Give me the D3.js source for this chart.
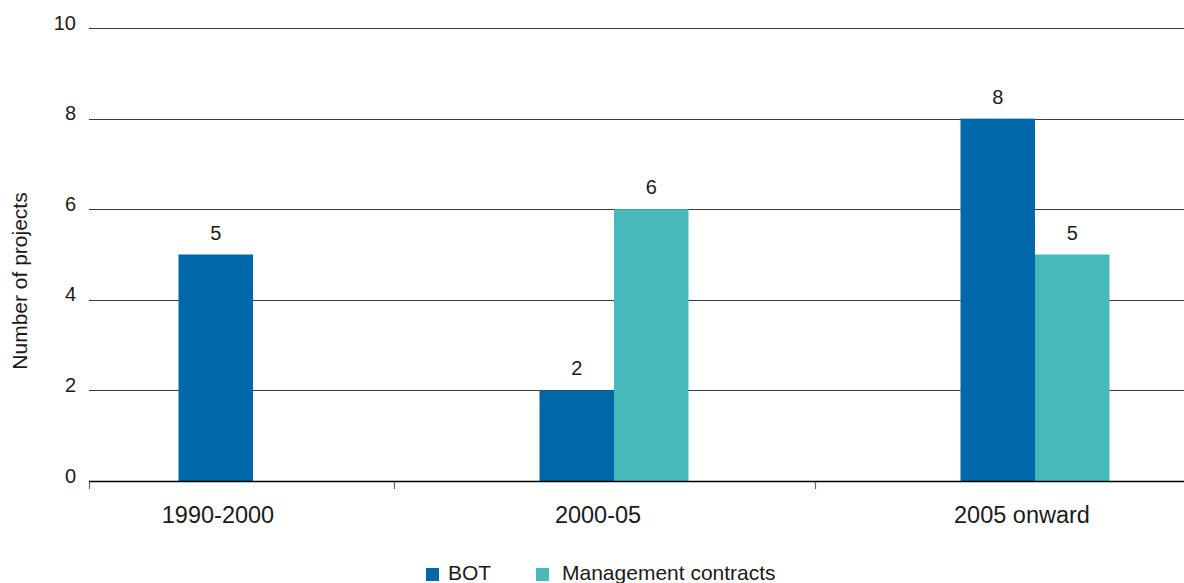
<!DOCTYPE html>
<html>
<head>
<meta charset="utf-8">
<script src="https://cdn.jsdelivr.net/npm/d3@7"></script>
<style>
  body { margin: 0; background: #fff; }
  text { font-family: "Liberation Sans", Arial, Helvetica, sans-serif; fill: #1a1a1a; }
</style>
</head>
<body>
<svg id="chart" width="1184" height="583"></svg>
<script>
// chart data
var categories = ["1990-2000", "2000-05", "2005 onward"];
var seriesNames = ["BOT", "Management contracts"];
var botValues = [5, 2, 8];
var mgmtValues = [null, 6, 5];
var yTicks = [0, 2, 4, 6, 8, 10];

var colors = { "BOT": "#0067a9", "Management contracts": "#48b9bb" };

var svg = d3.select("#chart");

// y scale
var y = d3.scaleLinear().domain([0, 10]).range([481, 28]);

// the groups are not evenly spaced in the original, so ordinal scales map them
var groupEdge = d3.scaleOrdinal().domain(categories).range([89, 394, 815]);
var pairCentre = d3.scaleOrdinal().domain(categories).range([253, 614, 1035]);
var labelCentre = d3.scaleOrdinal().domain(categories).range([218, 598, 1022]);
var inner = d3.scaleBand().domain(seriesNames).range([-74.5, 74.5]).padding(0);

var rows = categories.map(function(c, i) {
  return { cat: c, values: [
    { name: "BOT", value: botValues[i] },
    { name: "Management contracts", value: mgmtValues[i] }
  ]};
});

// gridlines + y labels
var yAxis = d3.axisLeft(y).tickValues(yTicks).tickSize(0).tickPadding(13);
var gy = svg.append("g").attr("transform", "translate(89,0)").call(yAxis);
gy.select(".domain").remove();
gy.selectAll("text").style("font-size", "20px").attr("dy", "0.05em");

svg.append("g").selectAll("line.grid")
  .data(yTicks.filter(function(t) { return t > 0; }))
  .enter().append("line")
    .attr("class", "grid")
    .attr("x1", 89).attr("x2", 1184)
    .attr("y1", function(d) { return Math.round(y(d)) + 0.5; })
    .attr("y2", function(d) { return Math.round(y(d)) + 0.5; })
    .style("stroke", "#3a3a3a").style("stroke-width", 1.2);

// bars
var groups = svg.selectAll("g.group")
  .data(rows)
  .enter().append("g")
    .attr("class", "group")
    .attr("transform", function(d) { return "translate(" + pairCentre(d.cat) + ",0)"; });

groups.selectAll("rect")
  .data(function(d) { return d.values.filter(function(v) { return v.value != null; }); })
  .enter().append("rect")
    .attr("x", function(d) { return inner(d.name); })
    .attr("width", inner.bandwidth())
    .attr("y", function(d) { return y(d.value); })
    .attr("height", function(d) { return y(0) - y(d.value); })
    .style("fill", function(d) { return colors[d.name]; });

// value labels
groups.selectAll("text.val")
  .data(function(d) { return d.values.filter(function(v) { return v.value != null; }); })
  .enter().append("text")
    .attr("class", "val")
    .attr("x", function(d) { return inner(d.name) + inner.bandwidth() / 2; })
    .attr("y", function(d) { return y(d.value) - 15; })
    .attr("text-anchor", "middle")
    .style("font-size", "20px")
    .text(function(d) { return d.value; });

// x axis line and ticks
svg.append("line")
  .attr("x1", 89).attr("x2", 1184)
  .attr("y1", 481.5).attr("y2", 481.5)
  .style("stroke", "#000").style("stroke-width", 1.5);

svg.append("g").selectAll("line.tick")
  .data(categories)
  .enter().append("line")
    .attr("x1", function(d) { return groupEdge(d) + 0.5; })
    .attr("x2", function(d) { return groupEdge(d) + 0.5; })
    .attr("y1", 482).attr("y2", 489)
    .style("stroke", "#666").style("stroke-width", 1.2);

svg.append("g").selectAll("text.cat")
  .data(categories)
  .enter().append("text")
    .attr("class", "cat")
    .attr("x", function(d) { return labelCentre(d); })
    .attr("y", 523)
    .attr("text-anchor", "middle")
    .style("font-size", "23.5px")
    .text(function(d) { return d; });

// y axis title
svg.append("text")
  .attr("transform", "translate(27,281) rotate(-90)")
  .attr("text-anchor", "middle")
  .style("font-size", "21px")
  .text("Number of projects");

// legend
var legendX = d3.scaleOrdinal().domain(seriesNames).range([426, 536]);
var legend = svg.append("g").selectAll("g.leg")
  .data(seriesNames)
  .enter().append("g")
    .attr("class", "leg")
    .attr("transform", function(d) { return "translate(" + legendX(d) + ",568)"; });
legend.append("rect")
  .attr("width", 13).attr("height", 13)
  .style("fill", function(d) { return colors[d]; });
legend.append("text")
  .attr("x", function(d, i) { return i == 0 ? 22 : 26; })
  .attr("y", 12)
  .style("font-size", "21px")
  .text(function(d) { return d; });
</script>
</body>
</html>
